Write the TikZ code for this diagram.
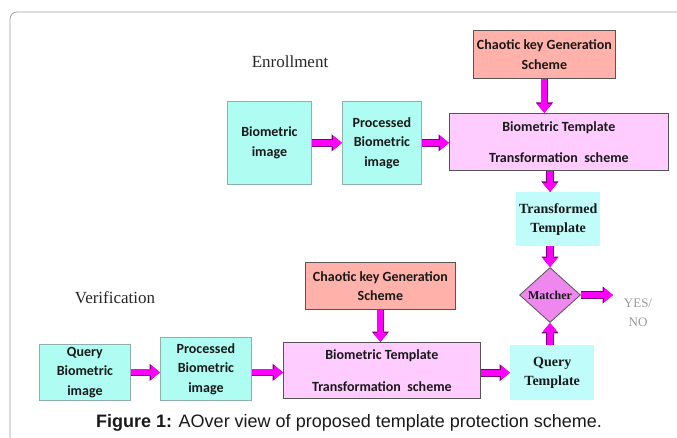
\documentclass[tikz,border=0pt]{standalone}
\usepackage{fontspec}
\setmainfont{Liberation Serif}
\newfontfamily\calib{Carlito}
\newfontfamily\arialf{Liberation Sans}
\usetikzlibrary{shapes.geometric,arrows.meta}
\definecolor{cyanbox}{HTML}{AFFCF3}
\definecolor{cyanlite}{HTML}{BFFCFA}
\definecolor{cyanedge}{HTML}{8FAFAD}
\definecolor{pinkbox}{HTML}{FFCCFF}
\definecolor{salmonbox}{HTML}{FFB1AA}
\definecolor{diafill}{HTML}{EE88EE}
\definecolor{boxedge}{HTML}{555555}
\definecolor{magarrow}{HTML}{FF00FF}
\definecolor{magedge}{HTML}{7A007A}
\definecolor{framegray}{HTML}{A0A0A0}
\definecolor{yesgray}{HTML}{999999}
\tikzset{
  cal/.style={font=\calib\bfseries\fontsize{14}{19.5}\selectfont, text=black!90},
  tim/.style={font=\bfseries\fontsize{14}{19}\selectfont, text=black!90},
  cybox/.style={cal, draw=cyanedge, fill=cyanbox, line width=0.8pt, align=center, anchor=north west, inner sep=0pt},
  ttbox/.style={tim, fill=cyanlite, align=center, anchor=north west, inner sep=0pt},
  keybox/.style={cal, draw=boxedge, fill=salmonbox, line width=0.8pt, align=center, anchor=north west, inner sep=0pt},
  btbox/.style={cal, draw=boxedge, fill=pinkbox, line width=0.8pt, align=center, anchor=north west, inner sep=0pt},
  blk/.style={line width=6pt, draw=magarrow, -{Triangle[width=14pt,length=9pt]},
    preaction={draw=magedge, line width=7.6pt, -{Triangle[width=16.5pt,length=10.5pt]}}},
  sectlabel/.style={font=\fontsize{17}{20}\selectfont, text=black!85},
}
\begin{document}
\begin{tikzpicture}[x=1pt,y=-1pt]
\useasboundingbox (0,0) rectangle (677,438);
\clip (0,0) rectangle (677,438);
\draw[framegray, line width=0.8pt, rounded corners=7] (10,470) |- (700,12);

% Enrollment
\node[sectlabel] (enr) at (290,62) {Enrollment};
\node[keybox, minimum width=142, minimum height=48] (ck1) at (473,30) {Chaotic key Generation\\Scheme};
\node[btbox, minimum width=219, minimum height=57] (bt1) at (449,113) {Biometric Template\\[12pt]Transformation\ \ scheme};
\node[cybox, minimum width=84, minimum height=83] (bio1) at (227,101) {Biometric\\image};
\node[cybox, minimum width=79, minimum height=83] (proc1) at (342,101) {Processed\\Biometric\\image};
\node[ttbox, minimum width=84, minimum height=54] (tt) at (516,192) {Transformed\\Template};
\node[diamond, draw=boxedge, fill=diafill, line width=0.8pt, inner sep=0pt,
      minimum width=61, minimum height=55, font=\bfseries\fontsize{12}{14}\selectfont, text=black!90] (match) at (550,295) {Matcher};
\coordinate (out) at (613,295);
\node[font=\fontsize{13}{19}\selectfont, text=yesgray, align=center] (yn) at (638,313) {YES/\\NO};

% Verification
\node[sectlabel] (ver) at (115,298) {Verification};
\node[keybox, minimum width=150, minimum height=47] (ck2) at (305,262) {Chaotic key Generation\\Scheme};
\node[btbox, minimum width=197, minimum height=56] (bt2) at (283,342) {Biometric Template\\[12pt]Transformation\ \ scheme};
\node[cybox, minimum width=91, minimum height=56] (qbio) at (39,344) {Query\\Biometric\\image};
\node[cybox, minimum width=91, minimum height=63] (proc2) at (160,337) {Processed\\Biometric\\image};
\node[ttbox, minimum width=84, minimum height=55] (qt) at (510,345) {Query\\Template};

% Arrows
\draw[blk] (bio1.east) -- (proc1.west);
\draw[blk] (proc1.east) -- (bt1.west |- proc1.east);
\draw[blk] (ck1.south) -- (ck1.south |- bt1.north);
\draw[blk] (match.north |- bt1.south) -- (match.north |- tt.north);
\draw[blk] (match.north |- tt.south) -- (match.north);
\draw[blk] (match.east) -- (out);
\draw[blk] (match.south |- qt.north) -- (match.south);
\draw[blk] (qbio.east) -- (proc2.west |- qbio.east);
\draw[blk] (proc2.east |- qbio.east) -- (bt2.west |- qbio.east);
\draw[blk] (ck2.south) -- (ck2.south |- bt2.north);
\draw[blk] (bt2.east |- qt.west) -- (qt.west);

% Caption
\node[font=\arialf\fontsize{18}{21}\selectfont, text=black!90] (cap) at (349,423) {\textbf{Figure 1:} AOver view of proposed template protection scheme.};
\end{tikzpicture}
\end{document}
